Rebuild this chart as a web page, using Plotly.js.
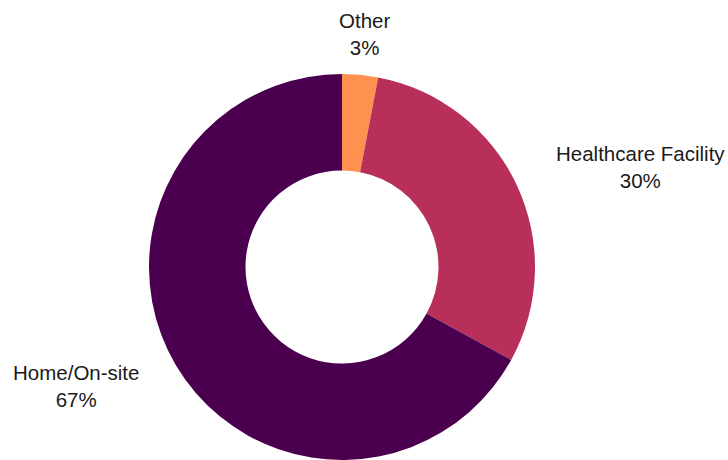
<!DOCTYPE html>
<html>
<head>
<meta charset="utf-8">
<script src="https://cdn.plot.ly/plotly-3.0.1.min.js"></script>
<style>html,body{margin:0;padding:0;background:#fff;}#chart{width:728px;height:460px;}</style>
</head>
<body>
<div id="chart"></div>
<script>
var labels = ["Other", "Healthcare Facility", "Home/On-site"];
var values = [3, 30, 67];
var colors = ["#fe9150", "#b8305a", "#4b004f"];

var W = 728, H = 460;
var domX = [0, 684 / W], domY = [0, 386 / H];
var cx = 342, cy = 267, R = 193, labelGap = 41;

var total = values.reduce(function (a, b) { return a + b; }, 0);
var annotations = [];
var cum = 0;
for (var i = 0; i < values.length; i++) {
  var frac = (cum + values[i] / 2) / total;
  cum += values[i];
  var ang = frac * 2 * Math.PI;
  var s = Math.sin(ang), c = Math.cos(ang);
  var r = R + labelGap;
  var px = cx + r * s, py = cy - r * c;
  var xa = Math.abs(s) < 0.3 ? "center" : (s > 0 ? "left" : "right");
  var pct = Math.round(values[i] / total * 100);
  annotations.push({
    xref: "paper", yref: "paper",
    x: px / W, y: (H - py) / H,
    xanchor: xa, yanchor: "middle",
    text: labels[i] + "<br>" + pct + "%",
    showarrow: false,
    align: "center",
    font: {family: "Liberation Sans, Arial, sans-serif", size: 20.5, color: "#1a1a1a"}
  });
}

Plotly.newPlot("chart", [{
  type: "pie",
  labels: labels,
  values: values,
  hole: 0.5,
  sort: false,
  direction: "clockwise",
  rotation: 0,
  domain: {x: domX, y: domY},
  marker: {colors: colors, line: {width: 0}},
  textinfo: "none",
  showlegend: false,
  hoverinfo: "label+percent"
}], {
  width: W,
  height: H,
  margin: {l: 0, r: 0, t: 0, b: 0},
  paper_bgcolor: "#fff",
  showlegend: false,
  annotations: annotations
}, {displayModeBar: false, staticPlot: true});
</script>
</body>
</html>
